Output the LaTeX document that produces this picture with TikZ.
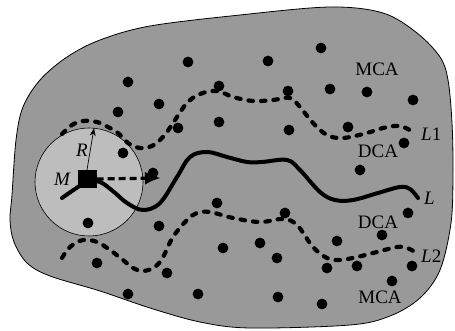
\documentclass[tikz,border=0pt]{standalone}
\usepackage{fontspec}
\setmainfont{Liberation Serif}
\usetikzlibrary{arrows.meta}
\definecolor{blobgray}{gray}{0.60}
\definecolor{circgray}{gray}{0.74}
\tikzset{
  lbl/.style={font=\fontsize{19}{21}\selectfont, inner sep=0pt},
  dotf/.style={fill=black},
  dashcurve/.style={line width=4.2pt, line cap=round, dash pattern=on 4.5pt off 8pt},
  solidcurve/.style={line width=4pt, line cap=round},
}
\begin{document}
\begin{tikzpicture}[x=1pt,y=-1pt]
\useasboundingbox (0,0) rectangle (455,331);
% region
\draw[fill=blobgray, line width=0.8pt] plot[smooth cycle, tension=0.55] coordinates {
 (150,26) (240,15) (330,7) (383,13) (417,33) (440,57) (448,80) (452,123) (453,173) (451,223) (440,270) (420,298) (390,316) (350,325) (250,328) (200,322) (150,308) (100,291) (50,276) (27,263) (14,242) (10,220) (12,195) (16,140) (23,107) (40,80) (67,57) (100,40)};
% coverage circle
\draw[fill=circgray, line width=0.6pt] (89,182) circle[radius=54];
% dots
\foreach \p in {(321,48),(188,62),(268,61),(128,82),(219,86),(288,91),(330,89),(367,92),(413,100),
 (159,104),(118,112),(219,122),(178,128),(289,130),(348,127),(404,143),(123,153),(153,173),(360,170),
 (217,203),(285,213),(408,213),(88,223),(159,226),(223,248),(260,243),(337,241),(382,235),(277,258),
 (97,263),(167,273),(327,268),(357,266),(412,266),(392,281),(128,294),(198,294),(278,297),(322,304)}
 \fill[dotf] \p circle[radius=5.4];
% dashed L1
\draw[dashcurve] plot[smooth, tension=0.6] coordinates {
 (62,134) (72,125) (83,121) (97,122) (108,127) (118,133) (128,143) (140,148) (152,146) (160,140) (167,132) (175,120)
 (187,103) (200,94) (217,91) (233,97) (253,101) (273,100) (290,98) (300,107) (313,123) (327,135) (343,138)
 (367,133) (383,128) (400,126) (413,132)};
% dashed L2
\draw[dashcurve] plot[smooth, tension=0.6] coordinates {
 (62,258) (70,247) (83,240) (97,242) (110,250) (123,260) (133,268) (143,271) (155,267) (163,257) (173,237)
 (187,220) (197,213) (210,212) (233,218) (260,222) (283,219) (297,225) (313,247) (327,258) (340,260)
 (357,257) (377,252) (397,247) (407,248) (415,252)};
% solid L
\draw[solidcurve] plot[smooth, tension=0.6] coordinates {
 (62,198) (75,189) (87,182) (100,182) (114,192) (127,203) (143,210) (160,203) (177,177) (190,157) (207,152)
 (227,157) (247,162) (262,162) (287,160) (300,170) (320,192) (335,200) (353,200) (378,193) (400,187) (410,189) (418,198)};
% mobile node M
\node[fill=black, minimum width=19pt, minimum height=18pt, inner sep=0pt] (sq) at (87,179) {};
\coordinate (rtip) at (94,128);
\coordinate (atip) at (161,178);
\draw[line width=0.7pt, -{Stealth[length=8pt,width=6pt]}] (sq.north) -- (rtip);
\draw[line width=3.2pt, dash pattern=on 7pt off 4pt, -{Latex[length=16pt,width=13pt]}] (sq.east) -- (atip);
% labels
\node[lbl] (lM) at (62,179) {\itshape M};
\node[lbl] (lR) at (82,150) {\itshape R};
\node[lbl, anchor=west] (lL1) at (421,134) {\itshape L\upshape 1};
\node[lbl, anchor=west] (lL) at (424,198) {\itshape L};
\node[lbl, anchor=west] (lL2) at (421,256) {\itshape L\upshape 2};
\node[lbl] (mca1) at (377,69) {MCA};
\node[lbl] (dca1) at (378,151) {DCA};
\node[lbl] (dca2) at (378,222) {DCA};
\node[lbl] (mca2) at (380,297) {MCA};
\end{tikzpicture}
\end{document}
